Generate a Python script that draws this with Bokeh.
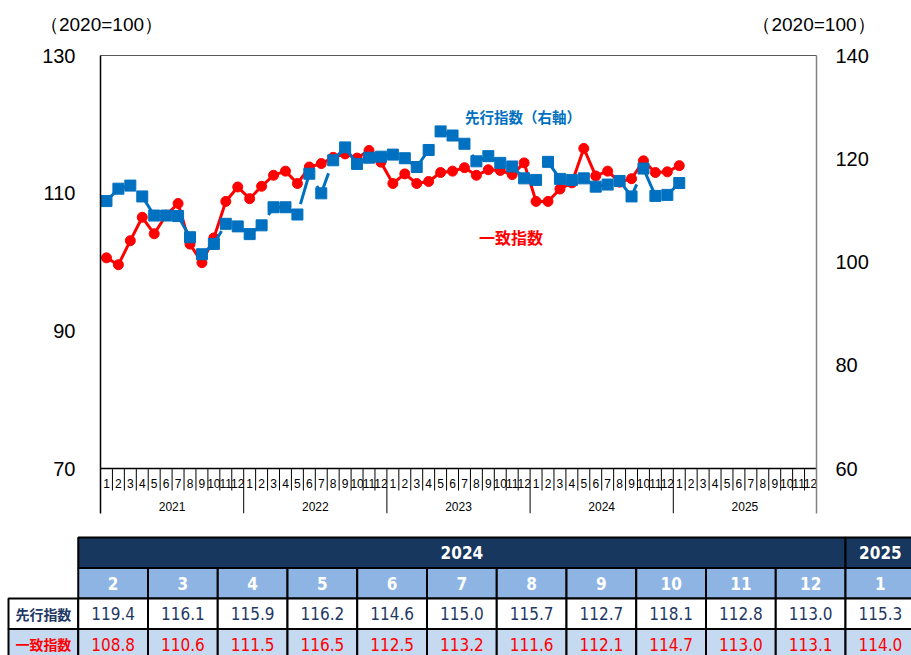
from bokeh.plotting import figure
from bokeh.layouts import column
from bokeh.models import Range1d, LinearAxis, FixedTicker, Label
from bokeh.core.properties import value
from bokeh.embed import file_html
from bokeh.resources import INLINE

# ---------------- data ----------------
years = [2021, 2022, 2023, 2024, 2025]
month_labels = [str(m) for m in range(1, 13)]

# 先行指数 (right axis), 2021-01 .. 2025-01
leading = [111.8, 114.2, 114.8, 112.7, 109.0, 109.0, 108.9, 104.8, 101.5, 103.5, 107.4, 106.9,
           105.4, 107.1, 110.6, 110.6, 109.2, 117.1, 113.3, 119.7, 122.2, 119.0, 120.2, 120.4,
           120.8, 120.1, 118.4, 121.7, 125.3, 124.5, 122.9, 119.5, 120.5, 119.2, 118.5, 116.2,
           115.9, 119.4, 116.1, 115.9, 116.2, 114.6, 115.0, 115.7, 112.7, 118.1, 112.8, 113.0,
           115.3]
# 一致指数 (left axis), 2021-01 .. 2025-01
coincident = [100.6, 99.6, 103.1, 106.5, 104.1, 106.8, 108.5, 102.6, 99.9, 103.5, 108.8, 110.9,
              109.2, 111.0, 112.6, 113.2, 111.4, 113.8, 114.3, 115.2, 115.7, 115.1, 116.2, 114.5,
              111.4, 112.8, 111.4, 111.7, 113.0, 113.2, 113.7, 112.6, 113.4, 113.3, 112.7, 114.4,
              108.8, 108.8, 110.6, 111.5, 116.5, 112.5, 113.2, 111.6, 112.1, 114.7, 113.0, 113.1,
              114.0]

left_ticks = [70, 90, 110, 130]
right_ticks = [60, 80, 100, 120, 140]
unit_label = "（2020=100）"
leading_name = "先行指数"
leading_label = "先行指数（右軸）"
coincident_name = "一致指数"
table_first = 37          # 2024-02 is the first month in the table
table_count = 12

RED = "#ff0000"
BLUE = "#0070c0"
FONT = "Liberation Sans"
NARROW = "DejaVu Sans Condensed"
CJK = "Noto Sans CJK JP"
PAGE_W = 911


def no_align(fig):
    try:
        fig.frame_align = False
    except Exception:
        pass


def clean(fig):
    fig.outline_line_color = None
    fig.xgrid.visible = False
    fig.ygrid.visible = False
    fig.background_fill_color = "white"
    fig.border_fill_color = "white"
    no_align(fig)


# ---------------- header (unit labels) ----------------
hdr = figure(width=PAGE_W, height=35, x_range=Range1d(0, PAGE_W), y_range=Range1d(35, 0),
             min_border=0, toolbar_location=None, x_axis_location=None, y_axis_location=None,
             output_backend="svg")
clean(hdr)
hdr.text(x=[101, 813.5], y=[24, 24], text=[unit_label, unit_label], text_font=value(FONT),
         text_font_size="19px", text_color="black", text_align="center", text_baseline="middle")

# ---------------- chart ----------------
n_slots = len(years) * 12
xs = [i + 0.5 for i in range(len(leading))]

frame_h = 458          # px
plot_h = 413           # px between min and max ticks
ext = frame_h - plot_h
l_lo, l_hi = left_ticks[0], left_ticks[-1]
r_lo, r_hi = right_ticks[0], right_ticks[-1]
l_per_px = (l_hi - l_lo) / plot_h
r_per_px = (r_hi - r_lo) / plot_h
l_bottom = l_lo - ext * l_per_px
r_bottom = r_lo - ext * r_per_px

p = figure(width=PAGE_W, height=495, x_range=Range1d(0, n_slots), y_range=Range1d(l_bottom, l_hi),
           min_border_left=100, min_border_right=PAGE_W - 100 - 716, min_border_top=20,
           min_border_bottom=17, toolbar_location=None, x_axis_location=None,
           output_backend="svg")
clean(p)

ya = p.yaxis[0]
ya.ticker = FixedTicker(ticks=left_ticks)
ya.major_label_text_font = FONT
ya.major_label_text_font_size = "20px"
ya.major_label_text_color = "black"
ya.major_label_standoff = 25
ya.major_tick_out = 0
ya.major_tick_in = 0
ya.minor_tick_out = 0
ya.minor_tick_in = 0
ya.axis_line_color = "black"
ya.axis_line_width = 1.5

p.extra_y_ranges = {"right": Range1d(r_bottom, r_hi)}
ra = LinearAxis(y_range_name="right", ticker=FixedTicker(ticks=right_ticks))
ra.major_label_text_font = FONT
ra.major_label_text_font_size = "20px"
ra.major_label_text_color = "black"
ra.major_label_standoff = 19
ra.major_tick_out = 0
ra.major_tick_in = 0
ra.minor_tick_out = 0
ra.minor_tick_in = 0
ra.axis_line_color = "#808080"
ra.axis_line_width = 1.5
p.add_layout(ra, "right")

ta = LinearAxis(ticker=FixedTicker(ticks=[]))
ta.major_label_text_font_size = "0px"
ta.major_label_standoff = 0
ta.major_tick_out = 0
ta.major_tick_in = 0
ta.minor_tick_out = 0
ta.minor_tick_in = 0
ta.axis_line_color = "#595959"
ta.axis_line_width = 1.2
p.add_layout(ta, "above")

# x axis baseline + separators + labels (drawn in data units)
p.segment(x0=[0], y0=[l_lo], x1=[n_slots], y1=[l_lo], line_color="black", line_width=1.5)
month_sep = [b for b in range(1, n_slots) if b % 12 != 0]
year_sep = [b for b in range(12, n_slots, 12)]
sep_low = l_lo - 22 * l_per_px
p.segment(x0=month_sep, y0=[l_lo] * len(month_sep), x1=month_sep, y1=[sep_low] * len(month_sep),
          line_color="black", line_width=1)
p.segment(x0=year_sep, y0=[l_lo] * len(year_sep), x1=year_sep, y1=[l_bottom] * len(year_sep),
          line_color="black", line_width=1)
p.text(x=[i + 0.5 for i in range(n_slots)], y=[l_lo - 15 * l_per_px] * n_slots,
       text=month_labels * len(years), text_font=value(FONT), text_font_size="12px",
       text_align="center", text_baseline="middle", text_color="black")
p.text(x=[12 * k + 6 for k in range(len(years))], y=[l_lo - 38 * l_per_px] * len(years),
       text=[str(y) for y in years], text_font=value(FONT), text_font_size="12px",
       text_align="center", text_baseline="middle", text_color="black")

# series
p.line(xs, coincident, line_color=RED, line_width=3)
p.scatter(xs, coincident, marker="circle", size=10, fill_color=RED, line_color=RED)
p.line(xs, leading, y_range_name="right", line_color=BLUE, line_width=3, line_dash="30 16")
p.scatter(xs, leading, y_range_name="right", marker="square", size=11,
          fill_color=BLUE, line_color=BLUE)

# series labels
p.add_layout(Label(x=35.4, y=121.1, text=leading_label, text_font=CJK, text_font_size="14.5px",
                   text_font_style="bold", text_color=BLUE, text_align="center",
                   text_baseline="middle"))
p.add_layout(Label(x=34.4, y=103.6, text=coincident_name, text_font=CJK, text_font_size="16px",
                   text_font_style="bold", text_color=RED, text_align="center",
                   text_baseline="middle"))

# ---------------- table ----------------
t_lead = leading[table_first:table_first + table_count]
t_coin = coincident[table_first:table_first + table_count]
t_year = []
t_month = []
for k in range(table_first, table_first + table_count):
    t_year.append(years[k // 12])
    t_month.append(month_labels[k % 12])

groups = []
for i, yv in enumerate(t_year):
    if groups and groups[-1][0] == yv:
        groups[-1][2] = i + 1
    else:
        groups.append([yv, i, i + 1])

col_w = 69.75
row_h = 30.5
tab_h = 125
x0 = -1 - 8 / col_w
tf = figure(width=PAGE_W, height=tab_h, x_range=Range1d(x0, x0 + PAGE_W / col_w),
            y_range=Range1d((tab_h - 7) / row_h, -7 / row_h),
            min_border=0, toolbar_location=None, x_axis_location=None, y_axis_location=None,
            output_backend="svg")
clean(tf)

cols = [i + 0.5 for i in range(table_count)]
NAVY = "#17375e"
tf.rect(x=[(g[1] + g[2]) / 2 for g in groups], y=[0.5] * len(groups),
        width=[g[2] - g[1] for g in groups], height=1,
        fill_color=NAVY, line_color="black", line_width=2)
tf.rect(x=cols, y=[1.5] * table_count, width=1, height=1,
        fill_color="#8db4e2", line_color="black", line_width=2)
tf.rect(x=[-0.5] + cols, y=[2.5] * (table_count + 1), width=1, height=1,
        fill_color="white", line_color="black", line_width=2)
tf.rect(x=[-0.5] + cols, y=[3.5] * (table_count + 1), width=1, height=1,
        fill_color="#c5d9f1", line_color="black", line_width=2)

tf.text(x=[(g[1] + g[2]) / 2 for g in groups], y=[0.5] * len(groups),
        text=[str(g[0]) for g in groups], text_font=value(NARROW), text_font_size="17px",
        text_font_style="bold", text_color="white", text_align="center", text_baseline="middle")
tf.text(x=cols, y=[1.5] * table_count, text=t_month, text_font=value(NARROW),
        text_font_size="17px", text_font_style="bold", text_color="white",
        text_align="center", text_baseline="middle")
tf.text(x=cols, y=[2.5] * table_count, text=[f"{v:.1f}" for v in t_lead],
        text_font=value(NARROW), text_font_size="17px", text_color="#1f3864",
        text_align="center", text_baseline="middle")
tf.text(x=cols, y=[3.5] * table_count, text=[f"{v:.1f}" for v in t_coin],
        text_font=value(NARROW), text_font_size="17px", text_color=RED,
        text_align="center", text_baseline="middle")
tf.text(x=[-0.5], y=[2.5], text=[leading_name], text_font=value(CJK), text_font_size="14px",
        text_font_style="bold", text_color="#1f3864", text_align="center", text_baseline="middle")
tf.text(x=[-0.5], y=[3.5], text=[coincident_name], text_font=value(CJK), text_font_size="14px",
        text_font_style="bold", text_color=RED, text_align="center", text_baseline="middle")

layout = column(hdr, p, tf, spacing=0)
open("out.html", "w").write(file_html(layout, INLINE))
